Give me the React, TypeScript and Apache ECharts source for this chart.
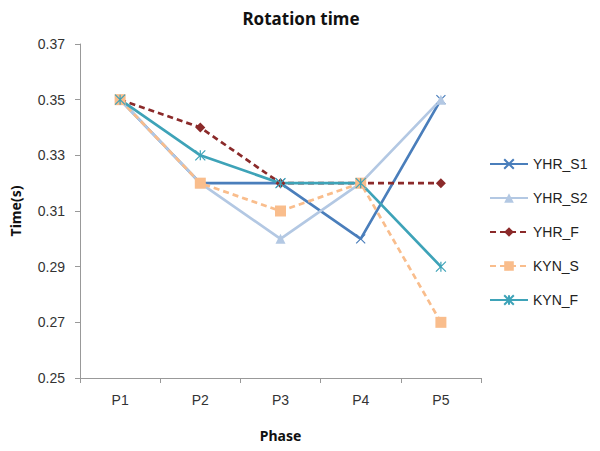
import React, { useEffect, useRef } from "react";
import * as echarts from "echarts";

const categories = ["P1", "P2", "P3", "P4", "P5"];
const yhrS1 = [0.35, 0.32, 0.32, 0.30, 0.35];
const yhrS2 = [0.35, 0.32, 0.30, 0.32, 0.35];
const yhrF = [0.35, 0.34, 0.32, 0.32, 0.32];
const kynS = [0.35, 0.32, 0.31, 0.32, 0.27];
const kynF = [0.35, 0.33, 0.32, 0.32, 0.29];
const yTicks = { min: 0.25, max: 0.37, interval: 0.02 };

const X_PATH = "path://M0,0L10,10M10,0L0,10";
const STAR_PATH = "path://M5,0L5,10M0,0L10,10M10,0L0,10";

export default function App() {
  const ref = useRef<HTMLDivElement>(null);
  useEffect(() => {
    if (!ref.current) return;
    const chart = echarts.init(ref.current, undefined, { renderer: "svg" });
    const font = "'Liberation Sans', Arial, sans-serif";
    const mk = (name: string, data: number[], color: string, symbol: string, size: number, dashed: boolean, stroke: boolean) => ({
      name,
      type: "line",
      data,
      color,
      symbol,
      symbolSize: size,
      showSymbol: true,
      lineStyle: { color, width: 2.7, type: dashed ? [6, 4] : "solid" },
      itemStyle: stroke
        ? { color: "rgba(0,0,0,0)", borderColor: color, borderWidth: 1.2 }
        : { color, borderColor: color, borderWidth: 0 },
    });
    chart.setOption({
      animation: false,
      backgroundColor: "#fff",
      title: {
        text: "Rotation time",
        left: 296,
        textAlign: "center",
        top: 5,
        textStyle: { fontFamily: "'Noto Sans', sans-serif", fontWeight: "bold", fontSize: 17, color: "#111" },
      },
      grid: { left: 80, right: 119, top: 44, bottom: 73 },
      legend: {
        orient: "vertical",
        left: 484,
        top: 152,
        itemGap: 20,
        itemWidth: 38,
        itemHeight: 12,
        textStyle: { fontFamily: font, fontSize: 14, color: "#222" },
        data: ["YHR_S1", "YHR_S2", "YHR_F", "KYN_S", "KYN_F"],
      },
      xAxis: {
        type: "category",
        data: categories,
        boundaryGap: true,
        name: "Phase",
        nameLocation: "middle",
        nameGap: 50,
        nameTextStyle: { fontFamily: "'Noto Sans', sans-serif", fontWeight: "bold", fontSize: 14, color: "#111" },
        axisLine: { lineStyle: { color: "#999", width: 1 } },
        axisTick: { show: true, alignWithLabel: false, length: 5, lineStyle: { color: "#999" } },
        axisLabel: { fontFamily: font, fontSize: 14, color: "#333", margin: 15 },
        splitLine: { show: false },
      },
      yAxis: {
        type: "value",
        min: yTicks.min,
        max: yTicks.max,
        interval: yTicks.interval,
        name: "Time(s)",
        nameLocation: "middle",
        nameGap: 58,
        nameTextStyle: { fontFamily: "'Noto Sans', sans-serif", fontWeight: "bold", fontSize: 14, color: "#111" },
        axisLine: { show: true, lineStyle: { color: "#999", width: 1 } },
        axisTick: { show: true, length: 5, lineStyle: { color: "#999" } },
        axisLabel: { fontFamily: font, fontSize: 14, color: "#333", margin: 15, formatter: (v: number) => v.toFixed(2) },
        splitLine: { show: false },
      },
      series: [
        mk("YHR_S1", yhrS1, "#4a7ebb", X_PATH, 9, false, true),
        mk("YHR_S2", yhrS2, "#b3c8e3", "triangle", 10, false, false),
        mk("YHR_F", yhrF, "#8b2a2a", "diamond", 10, true, false),
        mk("KYN_S", kynS, "#f9bd8c", "rect", 11, true, false),
        mk("KYN_F", kynF, "#3ea3b8", STAR_PATH, 10, false, true),
      ],
    });
    return () => chart.dispose();
  }, []);
  return <div ref={ref} style={{ width: 600, height: 451, position: "absolute", left: 0, top: 0 }} />;
}
